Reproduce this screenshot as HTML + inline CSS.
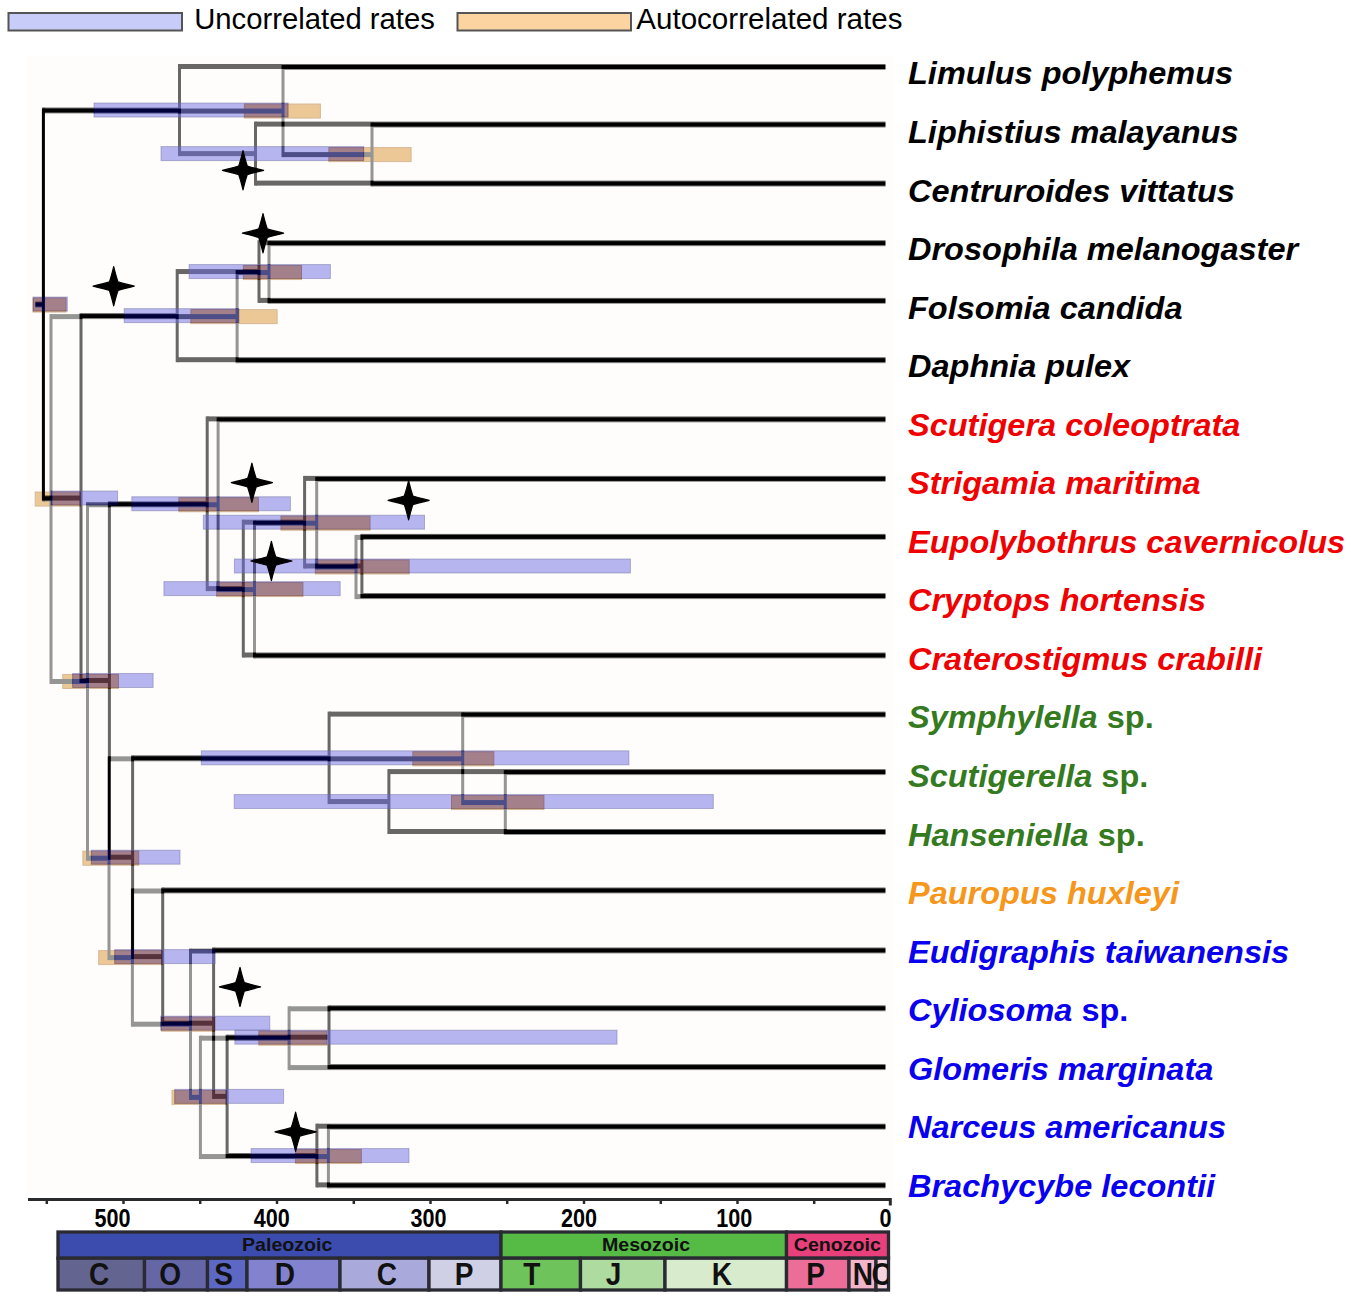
<!DOCTYPE html><html><head><meta charset="utf-8"><style>html,body{margin:0;padding:0;background:#fff;width:1350px;height:1302px;overflow:hidden}svg{display:block}text{font-family:"Liberation Sans",sans-serif}</style></head><body>
<svg width="1350" height="1302" viewBox="0 0 1350 1302">
<rect x="26" y="56" width="868" height="1138" fill="#fefdfb"/>
<rect x="8.5" y="13" width="173.5" height="17.5" fill="#c8ccf8" stroke="#555" stroke-width="2"/>
<text x="0" y="0" transform="translate(194.2 29.3) scale(1.02 1)" font-size="28.7" fill="#000">Uncorrelated rates</text>
<rect x="457.5" y="13" width="173.5" height="17.5" fill="#fcd4a2" stroke="#555" stroke-width="2"/>
<text x="0" y="0" transform="translate(636.3 29.3) scale(1.03 1)" font-size="28.7" fill="#000">Autocorrelated rates</text>
<g>
<g fill="rgb(211,124,5)" stroke="rgb(160,85,10)" stroke-width="1"><rect x="33.0" y="298.05" width="33.0" height="14"/><rect x="244.4" y="104.05" width="76.0" height="14"/><rect x="328.9" y="147.60" width="82.2" height="14"/><rect x="35.2" y="492.05" width="45.0" height="14"/><rect x="190.9" y="309.62" width="86.2" height="14"/><rect x="243.4" y="265.55" width="58.1" height="14"/><rect x="62.8" y="674.48" width="55.6" height="14"/><rect x="178.9" y="497.75" width="79.5" height="14"/><rect x="216.7" y="582.60" width="86.2" height="14"/><rect x="281.0" y="516.20" width="89.0" height="14"/><rect x="315.4" y="560.00" width="93.7" height="14"/><rect x="82.9" y="851.21" width="55.8" height="14"/><rect x="412.9" y="751.83" width="80.9" height="14"/><rect x="451.5" y="795.55" width="92.4" height="14"/><rect x="98.7" y="950.59" width="63.3" height="14"/><rect x="161.5" y="1017.19" width="53.3" height="14"/><rect x="172.0" y="1090.38" width="54.2" height="14"/><rect x="258.9" y="1031.20" width="67.7" height="14"/><rect x="295.6" y="1149.55" width="65.7" height="14"/></g>
<g fill="#000"><rect x="41.90" y="108.55" width="3.00" height="393.00"/><rect x="43.40" y="108.55" width="239.60" height="5.00"/><rect x="281.50" y="65.00" width="3.00" height="92.10"/><rect x="283.00" y="65.00" width="602.50" height="5.00"/><rect x="283.00" y="152.10" width="89.00" height="5.00"/><rect x="370.50" y="122.60" width="3.00" height="64.00"/><rect x="372.00" y="122.60" width="513.50" height="5.00"/><rect x="372.00" y="181.60" width="513.50" height="5.00"/><rect x="43.40" y="496.55" width="7.60" height="5.00"/><rect x="49.50" y="314.12" width="3.00" height="369.85"/><rect x="51.00" y="314.12" width="186.10" height="5.00"/><rect x="235.60" y="270.05" width="3.00" height="93.15"/><rect x="237.10" y="270.05" width="31.90" height="5.00"/><rect x="267.50" y="241.20" width="3.00" height="62.70"/><rect x="269.00" y="241.20" width="616.50" height="5.00"/><rect x="269.00" y="298.90" width="616.50" height="5.00"/><rect x="237.10" y="358.20" width="648.40" height="5.00"/><rect x="51.00" y="678.98" width="36.50" height="5.00"/><rect x="86.00" y="502.25" width="3.00" height="358.46"/><rect x="87.50" y="502.25" width="130.60" height="5.00"/><rect x="216.60" y="417.40" width="3.00" height="174.70"/><rect x="218.10" y="417.40" width="667.40" height="5.00"/><rect x="218.10" y="587.10" width="36.40" height="5.00"/><rect x="253.00" y="520.70" width="3.00" height="137.80"/><rect x="254.50" y="520.70" width="62.20" height="5.00"/><rect x="315.20" y="476.90" width="3.00" height="92.60"/><rect x="316.70" y="476.90" width="568.80" height="5.00"/><rect x="316.70" y="564.50" width="39.30" height="5.00"/><rect x="354.50" y="534.90" width="3.00" height="64.20"/><rect x="356.00" y="534.90" width="529.50" height="5.00"/><rect x="356.00" y="594.10" width="529.50" height="5.00"/><rect x="254.50" y="653.50" width="631.00" height="5.00"/><rect x="87.50" y="855.71" width="21.50" height="5.00"/><rect x="107.50" y="756.33" width="3.00" height="203.77"/><rect x="109.00" y="756.33" width="353.70" height="5.00"/><rect x="461.20" y="712.60" width="3.00" height="92.45"/><rect x="462.70" y="712.60" width="422.80" height="5.00"/><rect x="462.70" y="800.05" width="42.60" height="5.00"/><rect x="503.80" y="770.10" width="3.00" height="64.90"/><rect x="505.30" y="770.10" width="380.20" height="5.00"/><rect x="505.30" y="830.00" width="380.20" height="5.00"/><rect x="109.00" y="955.09" width="23.40" height="5.00"/><rect x="130.90" y="888.50" width="3.00" height="138.19"/><rect x="132.40" y="888.50" width="753.10" height="5.00"/><rect x="132.40" y="1021.69" width="58.10" height="5.00"/><rect x="189.00" y="948.50" width="3.00" height="151.38"/><rect x="190.50" y="948.50" width="695.00" height="5.00"/><rect x="190.50" y="1094.88" width="9.90" height="5.00"/><rect x="198.90" y="1035.70" width="3.00" height="123.35"/><rect x="200.40" y="1035.70" width="88.70" height="5.00"/><rect x="287.60" y="1006.30" width="3.00" height="63.80"/><rect x="289.10" y="1006.30" width="596.40" height="5.00"/><rect x="289.10" y="1065.10" width="596.40" height="5.00"/><rect x="200.40" y="1154.05" width="128.00" height="5.00"/><rect x="326.90" y="1124.70" width="3.00" height="63.70"/><rect x="328.40" y="1124.70" width="557.10" height="5.00"/><rect x="328.40" y="1183.40" width="557.10" height="5.00"/><rect x="35.30" y="302.55" width="8.10" height="5.00"/></g>
</g>
<g opacity="0.59">
<rect x="26" y="56" width="868" height="1138" fill="#fefdfb"/>
<g fill="#000"><rect x="41.90" y="107.55" width="3.00" height="393.00"/><rect x="43.40" y="107.55" width="136.10" height="5.00"/><rect x="178.00" y="64.00" width="3.00" height="92.10"/><rect x="179.50" y="64.00" width="706.00" height="5.00"/><rect x="179.50" y="151.10" width="76.00" height="5.00"/><rect x="254.00" y="121.60" width="3.00" height="64.00"/><rect x="255.50" y="121.60" width="630.00" height="5.00"/><rect x="255.50" y="180.60" width="630.00" height="5.00"/><rect x="43.40" y="495.55" width="37.60" height="5.00"/><rect x="79.50" y="313.12" width="3.00" height="369.85"/><rect x="81.00" y="313.12" width="96.20" height="5.00"/><rect x="175.70" y="269.05" width="3.00" height="93.15"/><rect x="177.20" y="269.05" width="81.80" height="5.00"/><rect x="257.50" y="240.20" width="3.00" height="62.70"/><rect x="259.00" y="240.20" width="626.50" height="5.00"/><rect x="259.00" y="297.90" width="626.50" height="5.00"/><rect x="177.20" y="357.20" width="708.30" height="5.00"/><rect x="81.00" y="677.98" width="28.40" height="5.00"/><rect x="107.90" y="501.25" width="3.00" height="358.46"/><rect x="109.40" y="501.25" width="97.80" height="5.00"/><rect x="205.70" y="416.40" width="3.00" height="174.70"/><rect x="207.20" y="416.40" width="678.30" height="5.00"/><rect x="207.20" y="586.10" width="36.10" height="5.00"/><rect x="241.80" y="519.70" width="3.00" height="137.80"/><rect x="243.30" y="519.70" width="61.30" height="5.00"/><rect x="303.10" y="475.90" width="3.00" height="92.60"/><rect x="304.60" y="475.90" width="580.90" height="5.00"/><rect x="304.60" y="563.50" width="57.30" height="5.00"/><rect x="360.40" y="533.90" width="3.00" height="64.20"/><rect x="361.90" y="533.90" width="523.60" height="5.00"/><rect x="361.90" y="593.10" width="523.60" height="5.00"/><rect x="243.30" y="652.50" width="642.20" height="5.00"/><rect x="109.40" y="854.71" width="23.20" height="5.00"/><rect x="131.10" y="755.33" width="3.00" height="203.77"/><rect x="132.60" y="755.33" width="196.50" height="5.00"/><rect x="327.60" y="711.60" width="3.00" height="92.45"/><rect x="329.10" y="711.60" width="556.40" height="5.00"/><rect x="329.10" y="799.05" width="59.80" height="5.00"/><rect x="387.40" y="769.10" width="3.00" height="64.90"/><rect x="388.90" y="769.10" width="496.60" height="5.00"/><rect x="388.90" y="829.00" width="496.60" height="5.00"/><rect x="132.60" y="954.09" width="30.10" height="5.00"/><rect x="161.20" y="887.50" width="3.00" height="138.19"/><rect x="162.70" y="887.50" width="722.80" height="5.00"/><rect x="162.70" y="1020.69" width="50.90" height="5.00"/><rect x="212.10" y="947.50" width="3.00" height="151.38"/><rect x="213.60" y="947.50" width="671.90" height="5.00"/><rect x="213.60" y="1093.88" width="13.50" height="5.00"/><rect x="225.60" y="1034.70" width="3.00" height="123.35"/><rect x="227.10" y="1034.70" width="101.90" height="5.00"/><rect x="327.50" y="1005.30" width="3.00" height="63.80"/><rect x="329.00" y="1005.30" width="556.50" height="5.00"/><rect x="329.00" y="1064.10" width="556.50" height="5.00"/><rect x="227.10" y="1153.05" width="89.80" height="5.00"/><rect x="315.40" y="1123.70" width="3.00" height="63.70"/><rect x="316.90" y="1123.70" width="568.60" height="5.00"/><rect x="316.90" y="1182.40" width="568.60" height="5.00"/><rect x="35.30" y="301.55" width="8.10" height="5.00"/></g>
<g fill="rgba(0,0,208,0.48)" stroke="rgba(0,0,90,0.45)" stroke-width="1"><rect x="33.1" y="297.05" width="34.2" height="14"/><rect x="94.0" y="103.05" width="194.1" height="14"/><rect x="161.0" y="146.60" width="202.7" height="14"/><rect x="51.0" y="491.05" width="66.6" height="14"/><rect x="124.2" y="308.62" width="114.7" height="14"/><rect x="189.1" y="264.55" width="141.3" height="14"/><rect x="72.6" y="673.48" width="80.5" height="14"/><rect x="131.8" y="496.75" width="158.6" height="14"/><rect x="163.9" y="581.60" width="176.3" height="14"/><rect x="203.3" y="515.20" width="221.2" height="14"/><rect x="234.4" y="559.00" width="396.0" height="14"/><rect x="91.3" y="850.21" width="88.7" height="14"/><rect x="201.3" y="750.83" width="427.6" height="14"/><rect x="234.2" y="794.55" width="479.1" height="14"/><rect x="114.7" y="949.59" width="100.4" height="14"/><rect x="160.7" y="1016.19" width="109.1" height="14"/><rect x="174.7" y="1089.38" width="108.9" height="14"/><rect x="234.9" y="1030.20" width="382.1" height="14"/><rect x="251.1" y="1148.55" width="157.9" height="14"/></g>
</g>
<path transform="translate(243 170.3)" d="M0,-19.6 Q2.3,-10 4.3,-4.3 Q10.5,-2.4 20.6,0 Q10.5,2.4 4.3,4.3 Q2.3,10 0,19.6 Q-2.3,10 -4.3,4.3 Q-10.5,2.4 -20.6,0 Q-10.5,-2.4 -4.3,-4.3 Q-2.3,-10 0,-19.6 Z" fill="#000" stroke="#000" stroke-width="1.2" stroke-linejoin="round"/>
<path transform="translate(263 233.2)" d="M0,-19.6 Q2.3,-10 4.3,-4.3 Q10.5,-2.4 20.6,0 Q10.5,2.4 4.3,4.3 Q2.3,10 0,19.6 Q-2.3,10 -4.3,4.3 Q-10.5,2.4 -20.6,0 Q-10.5,-2.4 -4.3,-4.3 Q-2.3,-10 0,-19.6 Z" fill="#000" stroke="#000" stroke-width="1.2" stroke-linejoin="round"/>
<path transform="translate(113.7 286.2)" d="M0,-19.6 Q2.3,-10 4.3,-4.3 Q10.5,-2.4 20.6,0 Q10.5,2.4 4.3,4.3 Q2.3,10 0,19.6 Q-2.3,10 -4.3,4.3 Q-10.5,2.4 -20.6,0 Q-10.5,-2.4 -4.3,-4.3 Q-2.3,-10 0,-19.6 Z" fill="#000" stroke="#000" stroke-width="1.2" stroke-linejoin="round"/>
<path transform="translate(251.9 482.7)" d="M0,-19.6 Q2.3,-10 4.3,-4.3 Q10.5,-2.4 20.6,0 Q10.5,2.4 4.3,4.3 Q2.3,10 0,19.6 Q-2.3,10 -4.3,4.3 Q-10.5,2.4 -20.6,0 Q-10.5,-2.4 -4.3,-4.3 Q-2.3,-10 0,-19.6 Z" fill="#000" stroke="#000" stroke-width="1.2" stroke-linejoin="round"/>
<path transform="translate(408.6 500.3)" d="M0,-19.6 Q2.3,-10 4.3,-4.3 Q10.5,-2.4 20.6,0 Q10.5,2.4 4.3,4.3 Q2.3,10 0,19.6 Q-2.3,10 -4.3,4.3 Q-10.5,2.4 -20.6,0 Q-10.5,-2.4 -4.3,-4.3 Q-2.3,-10 0,-19.6 Z" fill="#000" stroke="#000" stroke-width="1.2" stroke-linejoin="round"/>
<path transform="translate(271.4 561)" d="M0,-19.6 Q2.3,-10 4.3,-4.3 Q10.5,-2.4 20.6,0 Q10.5,2.4 4.3,4.3 Q2.3,10 0,19.6 Q-2.3,10 -4.3,4.3 Q-10.5,2.4 -20.6,0 Q-10.5,-2.4 -4.3,-4.3 Q-2.3,-10 0,-19.6 Z" fill="#000" stroke="#000" stroke-width="1.2" stroke-linejoin="round"/>
<path transform="translate(240 986.9)" d="M0,-19.6 Q2.3,-10 4.3,-4.3 Q10.5,-2.4 20.6,0 Q10.5,2.4 4.3,4.3 Q2.3,10 0,19.6 Q-2.3,10 -4.3,4.3 Q-10.5,2.4 -20.6,0 Q-10.5,-2.4 -4.3,-4.3 Q-2.3,-10 0,-19.6 Z" fill="#000" stroke="#000" stroke-width="1.2" stroke-linejoin="round"/>
<path transform="translate(295.6 1131.8)" d="M0,-19.6 Q2.3,-10 4.3,-4.3 Q10.5,-2.4 20.6,0 Q10.5,2.4 4.3,4.3 Q2.3,10 0,19.6 Q-2.3,10 -4.3,4.3 Q-10.5,2.4 -20.6,0 Q-10.5,-2.4 -4.3,-4.3 Q-2.3,-10 0,-19.6 Z" fill="#000" stroke="#000" stroke-width="1.2" stroke-linejoin="round"/>
<text x="0" y="0" transform="translate(908 84.40) scale(1.016 1)" font-size="32" font-weight="bold" fill="#000"><tspan font-style="italic">Limulus polyphemus</tspan></text>
<text x="0" y="0" transform="translate(908 142.95) scale(1.016 1)" font-size="32" font-weight="bold" fill="#000"><tspan font-style="italic">Liphistius malayanus</tspan></text>
<text x="0" y="0" transform="translate(908 201.50) scale(1.016 1)" font-size="32" font-weight="bold" fill="#000"><tspan font-style="italic">Centruroides vittatus</tspan></text>
<text x="0" y="0" transform="translate(908 260.05) scale(1.016 1)" font-size="32" font-weight="bold" fill="#000"><tspan font-style="italic">Drosophila melanogaster</tspan></text>
<text x="0" y="0" transform="translate(908 318.60) scale(1.016 1)" font-size="32" font-weight="bold" fill="#000"><tspan font-style="italic">Folsomia candida</tspan></text>
<text x="0" y="0" transform="translate(908 377.15) scale(1.016 1)" font-size="32" font-weight="bold" fill="#000"><tspan font-style="italic">Daphnia pulex</tspan></text>
<text x="0" y="0" transform="translate(908 435.70) scale(1.016 1)" font-size="32" font-weight="bold" fill="#f00000"><tspan font-style="italic">Scutigera coleoptrata</tspan></text>
<text x="0" y="0" transform="translate(908 494.25) scale(1.016 1)" font-size="32" font-weight="bold" fill="#f00000"><tspan font-style="italic">Strigamia maritima</tspan></text>
<text x="0" y="0" transform="translate(908 552.80) scale(1.016 1)" font-size="32" font-weight="bold" fill="#f00000"><tspan font-style="italic">Eupolybothrus cavernicolus</tspan></text>
<text x="0" y="0" transform="translate(908 611.35) scale(1.016 1)" font-size="32" font-weight="bold" fill="#f00000"><tspan font-style="italic">Cryptops hortensis</tspan></text>
<text x="0" y="0" transform="translate(908 669.90) scale(1.016 1)" font-size="32" font-weight="bold" fill="#f00000"><tspan font-style="italic">Craterostigmus crabilli</tspan></text>
<text x="0" y="0" transform="translate(908 728.45) scale(1.016 1)" font-size="32" font-weight="bold" fill="#347a20"><tspan font-style="italic">Symphylella</tspan><tspan> sp.</tspan></text>
<text x="0" y="0" transform="translate(908 787.00) scale(1.016 1)" font-size="32" font-weight="bold" fill="#347a20"><tspan font-style="italic">Scutigerella</tspan><tspan> sp.</tspan></text>
<text x="0" y="0" transform="translate(908 845.55) scale(1.016 1)" font-size="32" font-weight="bold" fill="#347a20"><tspan font-style="italic">Hanseniella</tspan><tspan> sp.</tspan></text>
<text x="0" y="0" transform="translate(908 904.10) scale(1.016 1)" font-size="32" font-weight="bold" fill="#f6961a"><tspan font-style="italic">Pauropus huxleyi</tspan></text>
<text x="0" y="0" transform="translate(908 962.65) scale(1.016 1)" font-size="32" font-weight="bold" fill="#0800ee"><tspan font-style="italic">Eudigraphis taiwanensis</tspan></text>
<text x="0" y="0" transform="translate(908 1021.20) scale(1.016 1)" font-size="32" font-weight="bold" fill="#0800ee"><tspan font-style="italic">Cyliosoma</tspan><tspan> sp.</tspan></text>
<text x="0" y="0" transform="translate(908 1079.75) scale(1.016 1)" font-size="32" font-weight="bold" fill="#0800ee"><tspan font-style="italic">Glomeris marginata</tspan></text>
<text x="0" y="0" transform="translate(908 1138.30) scale(1.016 1)" font-size="32" font-weight="bold" fill="#0800ee"><tspan font-style="italic">Narceus americanus</tspan></text>
<text x="0" y="0" transform="translate(908 1196.85) scale(1.016 1)" font-size="32" font-weight="bold" fill="#0800ee"><tspan font-style="italic">Brachycybe lecontii</tspan></text>
<path d="M28 1199.5H890.3V1205.5" fill="none" stroke="#2a2a2a" stroke-width="3"/>
<path d="M814.2 1199.5V1204" stroke="#2a2a2a" stroke-width="2.5"/>
<path d="M737.5 1199.5V1204" stroke="#2a2a2a" stroke-width="2.5"/>
<path d="M660.8 1199.5V1204" stroke="#2a2a2a" stroke-width="2.5"/>
<path d="M584.0 1199.5V1204" stroke="#2a2a2a" stroke-width="2.5"/>
<path d="M507.2 1199.5V1204" stroke="#2a2a2a" stroke-width="2.5"/>
<path d="M430.5 1199.5V1204" stroke="#2a2a2a" stroke-width="2.5"/>
<path d="M353.8 1199.5V1204" stroke="#2a2a2a" stroke-width="2.5"/>
<path d="M277.0 1199.5V1204" stroke="#2a2a2a" stroke-width="2.5"/>
<path d="M200.2 1199.5V1204" stroke="#2a2a2a" stroke-width="2.5"/>
<path d="M123.5 1199.5V1204" stroke="#2a2a2a" stroke-width="2.5"/>
<path d="M46.8 1199.5V1204" stroke="#2a2a2a" stroke-width="2.5"/>
<text x="0" y="0" transform="translate(112.5 1227) scale(0.83 1)" text-anchor="middle" font-size="26" font-weight="bold" fill="#000">500</text>
<text x="0" y="0" transform="translate(271.7 1227) scale(0.83 1)" text-anchor="middle" font-size="26" font-weight="bold" fill="#000">400</text>
<text x="0" y="0" transform="translate(428.5 1227) scale(0.83 1)" text-anchor="middle" font-size="26" font-weight="bold" fill="#000">300</text>
<text x="0" y="0" transform="translate(579.1 1227) scale(0.83 1)" text-anchor="middle" font-size="26" font-weight="bold" fill="#000">200</text>
<text x="0" y="0" transform="translate(734.2 1227) scale(0.83 1)" text-anchor="middle" font-size="26" font-weight="bold" fill="#000">100</text>
<text x="0" y="0" transform="translate(885.5 1227) scale(0.83 1)" text-anchor="middle" font-size="26" font-weight="bold" fill="#000">0</text>
<g stroke="#333" stroke-width="2">
</g>
<g stroke="#2a2a33" stroke-width="3.3">
<rect x="58" y="1232" width="443" height="26.2" fill="#3c4cae"/>
<rect x="501" y="1232" width="285.5" height="26.2" fill="#55bb45"/>
<rect x="786.5" y="1232" width="102.0" height="26.2" fill="#e8407a"/>
<rect x="58" y="1258.2" width="86.5" height="31.8" fill="#636490"/>
<rect x="144.5" y="1258.2" width="63.0" height="31.8" fill="#6466a6"/>
<rect x="207.5" y="1258.2" width="39.5" height="31.8" fill="#5d68c4"/>
<rect x="247" y="1258.2" width="93" height="31.8" fill="#8282cf"/>
<rect x="340" y="1258.2" width="89" height="31.8" fill="#a9aadb"/>
<rect x="429" y="1258.2" width="72" height="31.8" fill="#cfcfe6"/>
<rect x="501" y="1258.2" width="79.5" height="31.8" fill="#6ec35a"/>
<rect x="580.5" y="1258.2" width="84.5" height="31.8" fill="#aedca0"/>
<rect x="665" y="1258.2" width="121.5" height="31.8" fill="#d8ebcd"/>
<rect x="786.5" y="1258.2" width="62.5" height="31.8" fill="#ec6e98"/>
<rect x="849" y="1258.2" width="27" height="31.8" fill="#f2b4c8"/>
<rect x="876" y="1258.2" width="12.5" height="31.8" fill="#f6d4de"/>
</g>
<text x="0" y="0" transform="translate(287.2 1250.8) scale(1.06 1)" text-anchor="middle" font-size="18.5" font-weight="bold" fill="#111">Paleozoic</text>
<text x="0" y="0" transform="translate(646 1250.8) scale(1.06 1)" text-anchor="middle" font-size="18.5" font-weight="bold" fill="#111">Mesozoic</text>
<text x="0" y="0" transform="translate(837.3 1250.8) scale(1.06 1)" text-anchor="middle" font-size="18.5" font-weight="bold" fill="#111">Cenozoic</text>
<clipPath id="tsclip"><rect x="0" y="1200" width="888" height="100"/></clipPath>
<g clip-path="url(#tsclip)"><text x="0" y="0" transform="translate(99.1 1285.4) scale(0.92 1)" text-anchor="middle" font-size="30.5" font-weight="bold" fill="#111">C</text></g>
<g clip-path="url(#tsclip)"><text x="0" y="0" transform="translate(170.2 1285.4) scale(0.92 1)" text-anchor="middle" font-size="30.5" font-weight="bold" fill="#111">O</text></g>
<g clip-path="url(#tsclip)"><text x="0" y="0" transform="translate(223.6 1285.4) scale(0.92 1)" text-anchor="middle" font-size="30.5" font-weight="bold" fill="#111">S</text></g>
<g clip-path="url(#tsclip)"><text x="0" y="0" transform="translate(284.8 1285.4) scale(0.92 1)" text-anchor="middle" font-size="30.5" font-weight="bold" fill="#111">D</text></g>
<g clip-path="url(#tsclip)"><text x="0" y="0" transform="translate(386.8 1285.4) scale(0.92 1)" text-anchor="middle" font-size="30.5" font-weight="bold" fill="#111">C</text></g>
<g clip-path="url(#tsclip)"><text x="0" y="0" transform="translate(464.2 1285.4) scale(0.92 1)" text-anchor="middle" font-size="30.5" font-weight="bold" fill="#111">P</text></g>
<g clip-path="url(#tsclip)"><text x="0" y="0" transform="translate(531.9 1285.4) scale(0.92 1)" text-anchor="middle" font-size="30.5" font-weight="bold" fill="#111">T</text></g>
<g clip-path="url(#tsclip)"><text x="0" y="0" transform="translate(613.5 1285.4) scale(0.92 1)" text-anchor="middle" font-size="30.5" font-weight="bold" fill="#111">J</text></g>
<g clip-path="url(#tsclip)"><text x="0" y="0" transform="translate(722 1285.4) scale(0.92 1)" text-anchor="middle" font-size="30.5" font-weight="bold" fill="#111">K</text></g>
<g clip-path="url(#tsclip)"><text x="0" y="0" transform="translate(815.7 1285.4) scale(0.92 1)" text-anchor="middle" font-size="30.5" font-weight="bold" fill="#111">P</text></g>
<g clip-path="url(#tsclip)"><text x="0" y="0" transform="translate(863 1285.4) scale(0.92 1)" text-anchor="middle" font-size="30.5" font-weight="bold" fill="#111">N</text></g>
<g clip-path="url(#tsclip)"><text x="0" y="0" transform="translate(881.7 1285.4) scale(0.92 1)" text-anchor="middle" font-size="30.5" font-weight="bold" fill="#111">C</text></g>
</svg></body></html>
